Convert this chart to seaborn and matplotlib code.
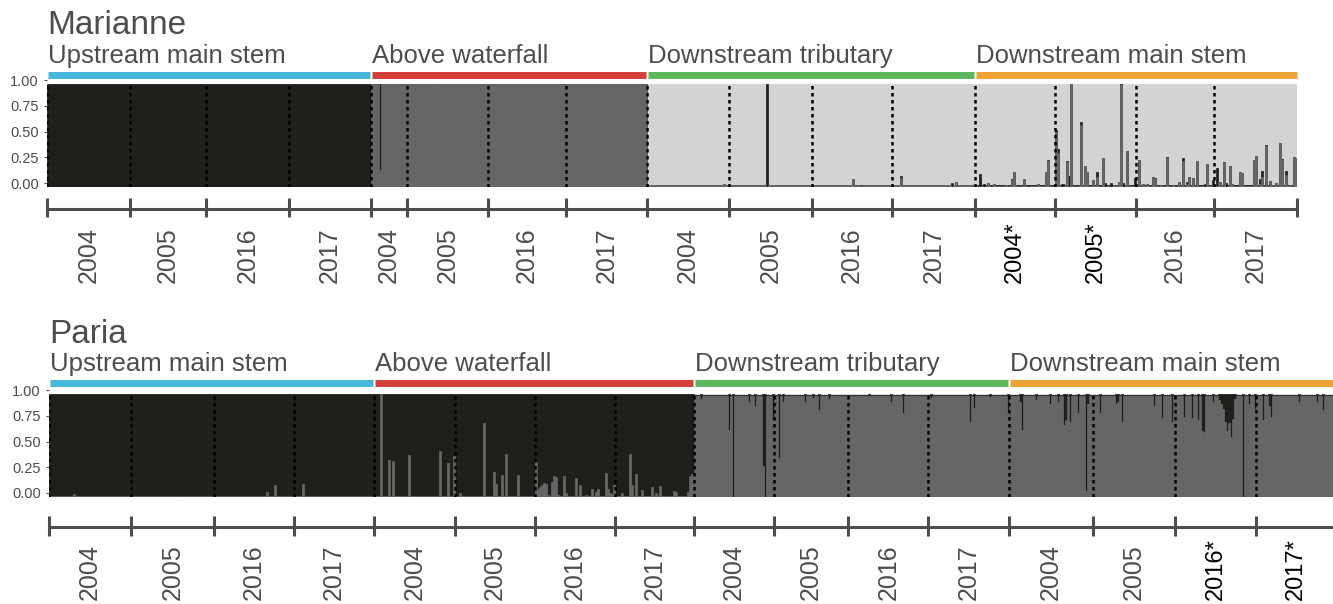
import numpy as np
import pandas as pd
import matplotlib
matplotlib.use("Agg")
import matplotlib.pyplot as plt
import seaborn as sns

sns.set_theme(style="white")
plt.rcParams["font.family"] = ["Liberation Sans", "DejaVu Sans"]

# ---- data -------------------------------------------------------------
sites = ["Upstream main stem", "Above waterfall", "Downstream tributary", "Downstream main stem"]
years = ["2004", "2005", "2016", "2017"]
site_colors = ["#46B8DA", "#D43F3A", "#5CB85C", "#EEA236"]

BLACK = "#1E1D1A"
DARK = "#676767"
LIGHT = "#D3D3D3"
GREY_TXT = "#4D4D4D"

# individuals per site x year block (16 blocks, site-major)
marianne_sizes = [41, 38, 41, 41, 18, 40, 39, 40, 41, 41, 40, 41, 40, 40, 39, 41]
paria_sizes = [41, 41, 40, 40, 40, 40, 40, 39, 40, 37, 40, 40, 42, 41, 40, 40]

# typical (dark, black) ancestry per site; the rest is the light cluster
marianne_base = [(0.0, 1.0), (1.0, 0.0), (0.015, 0.0), (0.01, 0.005)]
paria_base = [(0.01, 0.99), (0.01, 0.99), (0.985, 0.01), (0.98, 0.015)]

# individuals that differ from the site pattern: block -> [(index, dark, black)]
marianne_spikes = {
    4: [(4, 0.165, 0.835)],
    8: [(38, 0.03, 0.0)],
    9: [(18, 0.0, 1.0)],
    10: [(20, 0.08, 0.0), (24, 0.01, 0.01)],
    11: [(4, 0.09, 0.02), (6, 0.02, 0.0), (29, 0.0, 0.04), (31, 0.05, 0.0)],
    12: [(2, 0.0, 0.13), (4, 0.0, 0.03), (6, 0.04, 0.0), (9, 0.03, 0.0), (15, 0.02, 0.0),
         (18, 0.07, 0.01), (19, 0.15, 0.0), (24, 0.08, 0.0), (26, 0.0, 0.02), (31, 0.03, 0.0),
         (35, 0.15, 0.0), (36, 0.25, 0.01)],
    13: [(0, 0.53, 0.02), (1, 0.33, 0.04), (3, 0.0, 0.03), (5, 0.24, 0.01), (6, 0.0, 0.11),
         (7, 1.0, 0.0), (12, 0.6, 0.03), (14, 0.2, 0.0), (15, 0.15, 0.0), (18, 0.07, 0.0),
         (20, 0.1, 0.05), (23, 0.28, 0.0), (24, 0.0, 0.04), (27, 0.0, 0.04), (29, 0.02, 0.0),
         (31, 0.05, 0.0), (32, 0.99, 0.01), (33, 0.0, 0.04), (35, 0.35, 0.0), (39, 0.0, 0.09)],
    14: [(1, 0.26, 0.0), (3, 0.03, 0.0), (5, 0.03, 0.0), (8, 0.1, 0.0), (9, 0.08, 0.01),
         (12, 0.02, 0.0), (15, 0.28, 0.01), (18, 0.02, 0.0), (21, 0.05, 0.0), (23, 0.25, 0.03),
         (25, 0.03, 0.02), (26, 0.1, 0.0), (28, 0.09, 0.0), (30, 0.25, 0.0), (34, 0.0, 0.03),
         (35, 0.22, 0.0), (38, 0.02, 0.05)],
    15: [(1, 0.01, 0.17), (2, 0.05, 0.0), (4, 0.24, 0.0), (5, 0.0, 0.04), (7, 0.2, 0.0),
         (8, 0.03, 0.0), (12, 0.15, 0.0), (13, 0.14, 0.0), (19, 0.26, 0.0), (20, 0.3, 0.0),
         (22, 0.03, 0.05), (23, 0.1, 0.06), (25, 0.4, 0.01), (27, 0.06, 0.0), (28, 0.02, 0.0),
         (30, 0.04, 0.0), (32, 0.43, 0.0), (33, 0.26, 0.01), (35, 0.12, 0.04), (37, 0.02, 0.0),
         (39, 0.29, 0.0), (40, 0.28, 0.0)],
}

paria_spikes = {
    0: [(12, 0.03, 0.97)],
    2: [(26, 0.05, 0.95), (30, 0.12, 0.88)],
    3: [(4, 0.13, 0.87)],
    4: [(3, 1.0, 0.0), (7, 0.36, 0.64), (9, 0.35, 0.65), (17, 0.41, 0.59), (32, 0.45, 0.55),
        (36, 0.33, 0.67), (39, 0.4, 0.6)],
    5: [(2, 0.04, 0.96), (14, 0.72, 0.28), (19, 0.24, 0.76), (20, 0.13, 0.87), (23, 0.21, 0.79),
        (25, 0.42, 0.58), (31, 0.21, 0.79)],
    6: [(0, 0.34, 0.66), (1, 0.08, 0.92), (2, 0.1, 0.9), (3, 0.12, 0.88), (4, 0.14, 0.86),
        (5, 0.13, 0.87), (6, 0.02, 0.98), (8, 0.15, 0.85), (9, 0.2, 0.8), (10, 0.19, 0.81),
        (11, 0.02, 0.98), (14, 0.2, 0.8), (15, 0.04, 0.96), (20, 0.18, 0.82), (22, 0.12, 0.88),
        (25, 0.02, 0.98), (28, 0.08, 0.92), (30, 0.05, 0.95), (31, 0.08, 0.92), (35, 0.23, 0.77),
        (36, 0.08, 0.92), (37, 0.04, 0.96), (38, 0.03, 0.97), (39, 0.12, 0.88)],
    7: [(3, 0.04, 0.96), (7, 0.42, 0.58), (8, 0.12, 0.88), (10, 0.22, 0.78), (13, 0.07, 0.93),
        (18, 0.1, 0.9), (20, 0.04, 0.96), (22, 0.11, 0.89), (29, 0.06, 0.94), (30, 0.05, 0.95),
        (36, 0.05, 0.95), (37, 0.2, 0.8), (38, 0.22, 0.78)],
    8: [(3, 0.95, 0.05), (17, 0.65, 0.35), (19, 0.0, 1.0), (27, 0.92, 0.08), (30, 0.88, 0.12),
        (34, 0.3, 0.7), (35, 0.0, 1.0), (39, 0.75, 0.25)],
    9: [(2, 0.38, 0.62), (4, 0.92, 0.08), (15, 0.92, 0.08), (19, 0.96, 0.04), (22, 0.84, 0.16),
        (27, 0.95, 0.05)],
    10: [(10, 0.98, 0.02), (21, 0.92, 0.08), (27, 0.82, 0.18)],
    11: [(1, 0.96, 0.04), (20, 0.73, 0.27), (22, 0.86, 0.14), (30, 0.97, 0.03), (39, 0.83, 0.17)],
    12: [(5, 0.92, 0.08), (6, 0.65, 0.35), (13, 0.94, 0.06), (20, 0.9, 0.1), (24, 0.92, 0.08),
         (27, 0.7, 0.3), (28, 0.75, 0.25), (30, 0.73, 0.27), (34, 0.82, 0.18), (38, 0.06, 0.94),
         (39, 0.9, 0.1)],
    13: [(3, 0.82, 0.18), (11, 0.9, 0.1), (12, 0.92, 0.08), (14, 0.73, 0.27), (30, 0.88, 0.12),
         (34, 0.77, 0.23), (39, 0.73, 0.27)],
    14: [(4, 0.78, 0.22), (8, 0.77, 0.23), (11, 0.75, 0.25), (13, 0.64, 0.36), (14, 0.63, 0.37),
         (18, 0.92, 0.08), (21, 0.94, 0.06), (22, 0.9, 0.1), (23, 0.85, 0.15), (24, 0.73, 0.27),
         (25, 0.64, 0.36), (26, 0.72, 0.28), (27, 0.58, 0.42), (28, 0.76, 0.24), (29, 0.95, 0.05),
         (33, 0.0, 1.0), (36, 0.9, 0.1), (39, 0.85, 0.15)],
    15: [(3, 0.75, 0.25), (6, 0.88, 0.12), (7, 0.78, 0.22), (21, 0.92, 0.08), (30, 0.92, 0.08),
         (33, 0.84, 0.16)],
}

marianne_year_labels = years * 3 + ["2004*", "2005*", "2016", "2017"]
paria_year_labels = years * 3 + ["2004", "2005", "2016*", "2017*"]

# ---- layout (pixels on a 1333 x 604 canvas) ----------------------------
W, H = 1333, 604
marianne_geom = dict(left=47, right=1297, top=84, bottom=187, title=34, site=63, strip=74.5,
                     axis=209, tick0=198, tick1=217, label=283)
paria_geom = dict(left=49, right=1336, top=394, bottom=497, title=343, site=371, strip=382.5,
                  axis=527, tick0=516, tick1=536, label=600)
YLAB_SHIFT = 4  # the y scale labels sit a few pixels above the bars in the original


def build_panel(sizes, base, spikes):
    rows = []
    start = 0
    for b, n in enumerate(sizes):
        dark0, black0 = base[b // 4]
        hits = {i: (d, k) for i, d, k in spikes.get(b, [])}
        for i in range(n):
            dark, black = hits.get(i, (dark0, black0))
            rows.append({"ind": start + i, "block": b, "dark": dark, "black": black})
        start += n
    df = pd.DataFrame(rows)
    df["dark_black"] = (df["dark"] + df["black"]).clip(upper=1)
    df["total"] = 1.0
    return df


def draw_panel(fig, df, sizes, g, title, year_labels):
    rect = [g["left"] / W, 1 - g["bottom"] / H,
            (g["right"] - g["left"]) / W, (g["bottom"] - g["top"]) / H]
    ax = fig.add_axes(rect)
    # stacked ancestry bars drawn as overlapping cumulative bars
    for col, color in [("total", LIGHT), ("dark_black", BLACK), ("dark", DARK)]:
        sns.barplot(data=df, x="ind", y=col, native_scale=True, width=1, color=color,
                    saturation=1, errorbar=None, linewidth=0.5, edgecolor=color, ax=ax)
    edges = np.concatenate([[0], np.cumsum(sizes)]) - 0.5
    ax.set_xlim(edges[0], edges[-1])
    ax.set_ylim(0, 1)
    ax.set(xlabel="", ylabel="")
    ax.set_xticks([])
    ax.set_yticks([])
    sns.despine(ax=ax, left=True, bottom=True)

    # y scale, drawn on a transparent copy of the axes nudged upwards
    ay = fig.add_axes([rect[0], rect[1] + YLAB_SHIFT / H, rect[2], rect[3]], zorder=-1)
    ay.patch.set_alpha(0)
    ay.set_ylim(0, 1)
    ay.set_xticks([])
    ay.set_yticks([0, 0.25, 0.5, 0.75, 1.0])
    ay.set_yticklabels(["0.00", "0.25", "0.50", "0.75", "1.00"])
    ay.tick_params(axis="y", left=True, length=2.5, width=0.8, color=GREY_TXT, pad=3.5,
                   labelsize=10.5, labelcolor=GREY_TXT)
    sns.despine(ax=ay, left=True, bottom=True)

    # dotted lines between sampling years
    ax.vlines(edges[:-1], 0, 1, colors="black", linestyles=(0, (1.4, 1.4)), lw=1.8)

    def fy(px):
        return (g["bottom"] - px) / (g["bottom"] - g["top"])

    trans = ax.get_xaxis_transform()
    ax.text(edges[0], fy(g["title"]), title, transform=trans, fontsize=24, color=GREY_TXT,
            ha="left", va="baseline")
    for s, (name, color) in enumerate(zip(sites, site_colors)):
        x0, x1 = edges[4 * s] + 0.5, edges[4 * s + 4] - (0.5 if s < 3 else 0)
        ax.plot([x0, x1], [fy(g["strip"])] * 2, transform=trans, color=color, lw=5,
                solid_capstyle="butt", clip_on=False)
        ax.text(edges[4 * s] + 0.5, fy(g["site"]), name, transform=trans, fontsize=18.5,
                color=GREY_TXT, ha="left", va="baseline")

    # year axis below the bars
    ax.plot([edges[0], edges[-1]], [fy(g["axis"])] * 2, transform=trans, color=GREY_TXT,
            lw=2.2, solid_capstyle="butt", clip_on=False)
    for e in edges:
        ax.plot([e, e], [fy(g["tick0"]), fy(g["tick1"])], transform=trans, color=GREY_TXT,
                lw=2.2, solid_capstyle="butt", clip_on=False)
    centers = (edges[:-1] + edges[1:]) / 2
    for c, lab in zip(centers, year_labels):
        starred = lab.endswith("*")
        ax.text(c, fy(g["label"]), lab, transform=trans, rotation=90, ha="center", va="bottom",
                fontsize=17 if starred else 18, color="black" if starred else GREY_TXT)
    return ax


fig = plt.figure(figsize=(W / 100, H / 100), dpi=100)
marianne = build_panel(marianne_sizes, marianne_base, marianne_spikes)
paria = build_panel(paria_sizes, paria_base, paria_spikes)
draw_panel(fig, marianne, marianne_sizes, marianne_geom, "Marianne", marianne_year_labels)
draw_panel(fig, paria, paria_sizes, paria_geom, "Paria", paria_year_labels)
fig.savefig("out.png", dpi=100)
plt.close(fig)
